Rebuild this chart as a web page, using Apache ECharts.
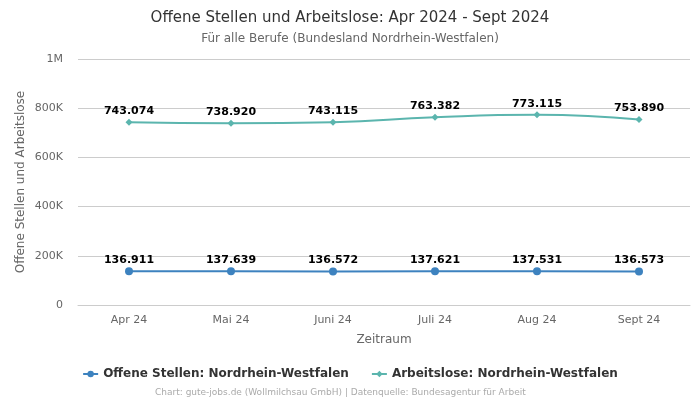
<!DOCTYPE html>
<html><head><meta charset="utf-8">
<script src="https://cdn.jsdelivr.net/npm/echarts@6/dist/echarts.min.js"></script>
<style>html,body{margin:0;padding:0;background:#fff}#c{width:700px;height:400px}</style>
</head><body><div id="c"></div>
<script>
var categories = ['Apr 24','Mai 24','Juni 24','Juli 24','Aug 24','Sept 24'];
var offeneStellen = [136911, 137639, 136572, 137621, 137531, 136573];
var arbeitslose = [743074, 738920, 743115, 763382, 773115, 753890];
var seriesNames = ['Offene Stellen: Nordrhein-Westfalen','Arbeitslose: Nordrhein-Westfalen'];
var colors = ['#3d82bf','#5bb5ae'];
function fmt(v){return v.toString().replace(/\B(?=(\d{3})+(?!\d))/g,'.');}
var font = 'DejaVu Sans';
var chart = echarts.init(document.getElementById('c'));
chart.setOption({
  textStyle:{fontFamily:font},
  title:{text:'Offene Stellen und Arbeitslose: Apr 2024 - Sept 2024',subtext:'Für alle Berufe (Bundesland Nordrhein-Westfalen)',left:'center',top:6,
    textStyle:{fontFamily:font,fontSize:15,fontWeight:'normal',color:'#333'},
    subtextStyle:{fontFamily:font,fontSize:12,color:'#666'},itemGap:7},
  grid:{left:78,right:10,top:59,bottom:95},
  legend:{bottom:15,left:'center',itemGap:22,itemWidth:15,itemHeight:8,
    textStyle:{fontFamily:font,fontSize:12,fontWeight:'bold',color:'#333'},
    data:[seriesNames[0],seriesNames[1]]},
  graphic:[{type:'text',left:155,bottom:3,style:{text:'Chart: gute-jobs.de (Wollmilchsau GmbH) | Datenquelle: Bundesagentur für Arbeit',fontFamily:font,fontSize:9,fill:'#aaa'}}],
  xAxis:{type:'category',data:categories,boundaryGap:true,name:'Zeitraum',nameLocation:'middle',nameGap:29,
    nameTextStyle:{fontFamily:font,fontSize:12,color:'#666'},
    axisLine:{lineStyle:{color:'#ccc'}},axisTick:{show:false},
    axisLabel:{color:'#666',fontSize:11,margin:10}},
  yAxis:{type:'value',min:0,max:1000000,interval:200000,name:'Offene Stellen und Arbeitslose',nameLocation:'middle',nameGap:51,nameMoveOverlap:false,
    nameTextStyle:{fontFamily:font,fontSize:12,color:'#666'},
    axisLine:{show:false},axisTick:{show:false},
    splitLine:{lineStyle:{color:'#ccc'}},
    axisLabel:{color:'#666',fontSize:11,margin:15,formatter:function(v){return v===0?'0':(v>=1000000?(v/1000000)+'M':(v/1000)+'K');}}},
  series:[
    {name:seriesNames[0],type:'line',data:offeneStellen,color:colors[0],symbol:'circle',symbolSize:8,
      lineStyle:{width:2},
      label:{show:true,position:'top',distance:2,formatter:function(p){return fmt(p.value);},fontFamily:font,fontSize:11,fontWeight:'bold',color:'#000'}},
    {name:seriesNames[1],type:'line',data:arbeitslose,color:colors[1],symbol:'diamond',symbolSize:7,smooth:true,
      lineStyle:{width:2},
      label:{show:true,position:'top',distance:2,formatter:function(p){return fmt(p.value);},fontFamily:font,fontSize:11,fontWeight:'bold',color:'#000'}}
  ]
});
</script></body></html>
